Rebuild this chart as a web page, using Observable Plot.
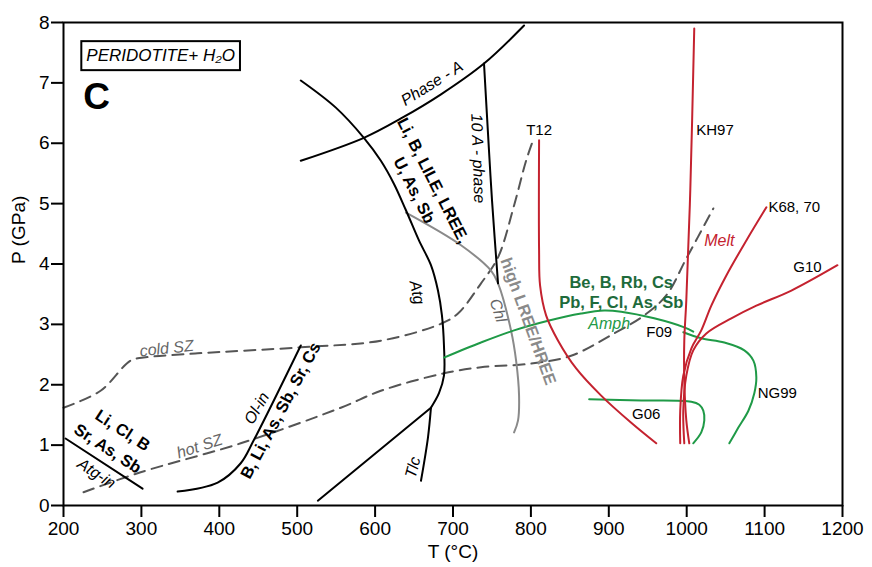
<!DOCTYPE html>
<html><head><meta charset="utf-8">
<script src="https://cdn.jsdelivr.net/npm/d3@7"></script>
<script src="https://cdn.jsdelivr.net/npm/@observablehq/plot@0.6"></script>
<style>body{margin:0;background:#fff} svg{display:block}</style>
</head><body><div id="chart"></div>
<script>
// axis ticks
const xTicks = [200,300,400,500,600,700,800,900,1000,1100,1200];
const yTicks = [0,1,2,3,4,5,6,7,8];

// black phase boundaries [T (°C), P (GPa)]
const phaseA = [[504.6,5.71],[585.6,6.09],[633.2,6.41],[684.6,6.81],[739.8,7.32],[791.2,7.95]];
const atg = [[504.6,7.04],[549.6,6.59],[585.6,6.09],[607.4,5.71],[624.1,5.33],[639.6,4.89],[656.3,4.39],[671.7,3.98],[680.7,3.56],[685.8,3.15],[688.4,2.65],[688.4,2.15],[682.0,1.86],[671.7,1.62]];
const tlc = [[671.7,1.62],[667.9,1.13],[658.9,0.41]];
const lowLine = [[526.5,0.08],[671.7,1.62]];
const tenA = [[739.8,7.32],[746.2,5.88],[750.1,5.05],[757.8,3.68]];
const atgIn = [[202.6,1.11],[301.5,0.28]];
const olIn = [[346.5,0.23],[397.9,0.38],[427.5,0.70],[444.2,1.08],[504.6,2.65]];
// grey chlorite
const chl = [[639.6,4.85],[710.3,4.31],[748.8,3.89],[757.8,3.68],[774.5,2.90],[781.0,2.40],[784.8,1.82],[783.5,1.41],[778.4,1.21]];
// slab geotherms (dashed)
const coldSZ = [[200,1.62],[247.6,1.90],[286.1,2.40],[302.8,2.45],[372.2,2.52],[504.6,2.62],[607.4,2.73],[684.6,3.01],[706.4,3.18],[736,3.68],[757.8,4.11],[778.4,4.97],[793.8,5.71],[802.8,6.05]];
const hotSZ = [[225.7,0.22],[299,0.55],[427.5,1.03],[556,1.62],[607.4,1.90],[688.4,2.19],[736,2.29],[800.2,2.35],[851.6,2.48],[906.9,2.85],[945.5,3.15],[973.8,3.48],[999.5,4.09],[1034.2,4.92]];
// melting curves (red)
const t12 = [[810.5,6.05],[810.5,4.22],[811.8,3.64],[819.5,3.15],[834.9,2.73],[858.1,2.27],[890.2,1.82],[928.8,1.37],[960.9,1.03]];
const kh97 = [[1009.7,7.90],[1004.6,5.22],[999.5,3.40],[996.9,2.73],[996.9,2.07],[999.5,1.41],[1003.3,1.03]];
const k68 = [[1102.3,4.94],[1076.6,4.39],[1050.9,3.81],[1031.6,3.31],[1018.7,2.90],[1005.9,2.60],[995.6,2.15],[991.7,1.57],[991.7,1.03]];
const g10 = [[1193.5,3.98],[1134.4,3.56],[1089.4,3.31],[1057.3,3.10],[1025.2,2.85],[1008.4,2.57],[999.5,2.15],[995.6,1.57],[996.9,1.03]];
// amphibole stability (green)
const amph = [[688.4,2.45],[736,2.70],[778.4,2.90],[822.1,3.06],[864.5,3.18],[894,3.23],[915.9,3.21],[958.3,3.10],[996.9,2.95],[1008.4,2.88]];
const ng99 = [[995.6,2.87],[1018.7,2.77],[1048.3,2.70],[1074,2.57],[1085.6,2.40],[1089.4,2.12],[1086.8,1.86],[1079.2,1.57],[1066.3,1.29],[1054.7,1.03]];
const g06 = [[874.8,1.76],[941.6,1.74],[1005.9,1.72],[1016.2,1.67],[1021.3,1.57],[1022.6,1.41],[1018.7,1.21],[1008.4,1.03]];

// labels [T, P, text, rotate]
const italicBlack = [[673,6.99,"Phase - A",-32],[732,5.75,"10 A - phase",88],[653.7,3.53,"Atg",78],[648.6,0.63,"Tlc",-75],[242.4,0.53,"Atg-in",33],[448.1,1.61,"Ol-in",-60]];
const boldBlack = [[674.3,5.38,"Li, B, LILE, LREE,",63],[649.9,5.22,"U, As, Sb",63],[275.8,1.24,"Li, Cl, B",33],[256.6,0.94,"Sr, As, Sb",33],[478.9,1.57,"B, Li, As, Sb, Sr, Cs",-62]];
const greyItalic = [[332.4,2.60,"cold SZ",-6],[374.8,0.98,"hot SZ",-18],[757.8,3.23,"Chl",72]];
const greyBold = [[796.4,3.05,"high LREE/HREE",70]];
const refLabels = [[810.5,6.21,"T12"],[964.8,2.87,"F09"],[948,1.52,"G06"],[1116.4,1.86,"NG99"],[1155,3.94,"G10"]];
const refLabelsStart = [[1012.3,6.21,"KH97"],[1104.9,4.94,"K68, 70"]];
const meltLabel = [[1041.9,4.39,"Melt",0]];
const greenBold = [[915.9,3.69,"Be, B, Rb, Cs"],[915.9,3.36,"Pb, F, Cl, As, Sb"]];
const amphLabel = [[900.5,3.01,"Amph"]];
const panelLabel = [[242.4,6.76,"C"]];
const titleLabel = [[324.7,7.45,"PERIDOTITE+ H₂O"]];

const RED = "#c4222f", GREEN = "#1f9a47", DGREEN = "#1e6b3b", DASH = "#555555", GREY = "#8a8a8a";
const FONT = "Liberation Sans, Arial, Helvetica, sans-serif";

const ln = (pts, o = {}) => Plot.line(pts, {x: d => d[0], y: d => d[1], curve: "catmull-rom", strokeWidth: 2, stroke: "black", ...o});
const tx = (arr, o = {}) => Plot.text(arr, {x: d => d[0], y: d => d[1], text: d => d[2], rotate: d => d[3] ?? 0, fontSize: 15, fill: "black", ...o});

const chart = Plot.plot({
  width: 872, height: 567,
  marginLeft: 63, marginRight: 30, marginTop: 22, marginBottom: 62,
  x: {domain: [200, 1200]},
  y: {domain: [0, 8]},
  style: {fontFamily: FONT, background: "white"},
  marks: [
    ln(coldSZ, {stroke: DASH, strokeDasharray: "11,7"}),
    ln(hotSZ, {stroke: DASH, strokeDasharray: "11,7"}),
    ln(chl, {stroke: GREY}),
    ln(phaseA), ln(atg), ln(tlc), ln(lowLine, {curve: "linear"}), ln(tenA), ln(atgIn, {curve: "linear"}), ln(olIn),
    ln(amph, {stroke: GREEN}), ln(ng99, {stroke: GREEN}), ln(g06, {stroke: GREEN}),
    ln(t12, {stroke: RED}), ln(kh97, {stroke: RED}), ln(k68, {stroke: RED}), ln(g10, {stroke: RED}),
    tx(italicBlack, {fontStyle: "italic", fontSize: 16}),
    tx(boldBlack, {fontWeight: "bold", fontSize: 16.5}),
    tx(greyItalic, {fontStyle: "italic", fill: "#666", fontSize: 16}),
    tx(greyBold, {fontWeight: "bold", fill: GREY, fontSize: 16.5}),
    tx(refLabels, {fontSize: 15}),
    tx(refLabelsStart, {fontSize: 15, textAnchor: "start"}),
    tx(meltLabel, {fontStyle: "italic", fill: RED, fontSize: 16}),
    tx(greenBold, {fontWeight: "bold", fill: DGREEN, fontSize: 16.5}),
    tx(amphLabel, {fontStyle: "italic", fill: GREEN, fontSize: 16}),
    tx(panelLabel, {fontWeight: "bold", fontSize: 37}),
    tx(titleLabel, {fontStyle: "italic", fontSize: 17}),
    Plot.frame({strokeWidth: 2}),
    Plot.axisX({ticks: xTicks, tickFormat: d => String(d), tickSize: 12, tickPadding: 4, fontSize: 19, label: null, strokeWidth: 2}),
    Plot.axisY({ticks: yTicks, tickFormat: d => String(d), tickSize: 12, tickPadding: 2, fontSize: 19, label: null, strokeWidth: 2}),
    Plot.text(["T (°C)"], {frameAnchor: "bottom", dy: 52, fontSize: 19}),
    Plot.text(["P (GPa)"], {frameAnchor: "left", dx: -45, rotate: -90, fontSize: 19})
  ]
});
document.getElementById("chart").appendChild(chart);

// box round the title label
const svg = d3.select(chart);
svg.selectAll("text").each(function () {
  if (this.textContent === titleLabel[0][2]) {
    const b = this.getBBox();
    const parent = this.parentNode;
    d3.select(parent).insert("rect", () => this)
      .attr("x", b.x - 5).attr("y", b.y - 5).attr("width", b.width + 10).attr("height", b.height + 10)
      .attr("fill", "none").attr("stroke", "black").attr("stroke-width", 2)
      .attr("transform", this.getAttribute("transform"));
  }
});
</script></body></html>
